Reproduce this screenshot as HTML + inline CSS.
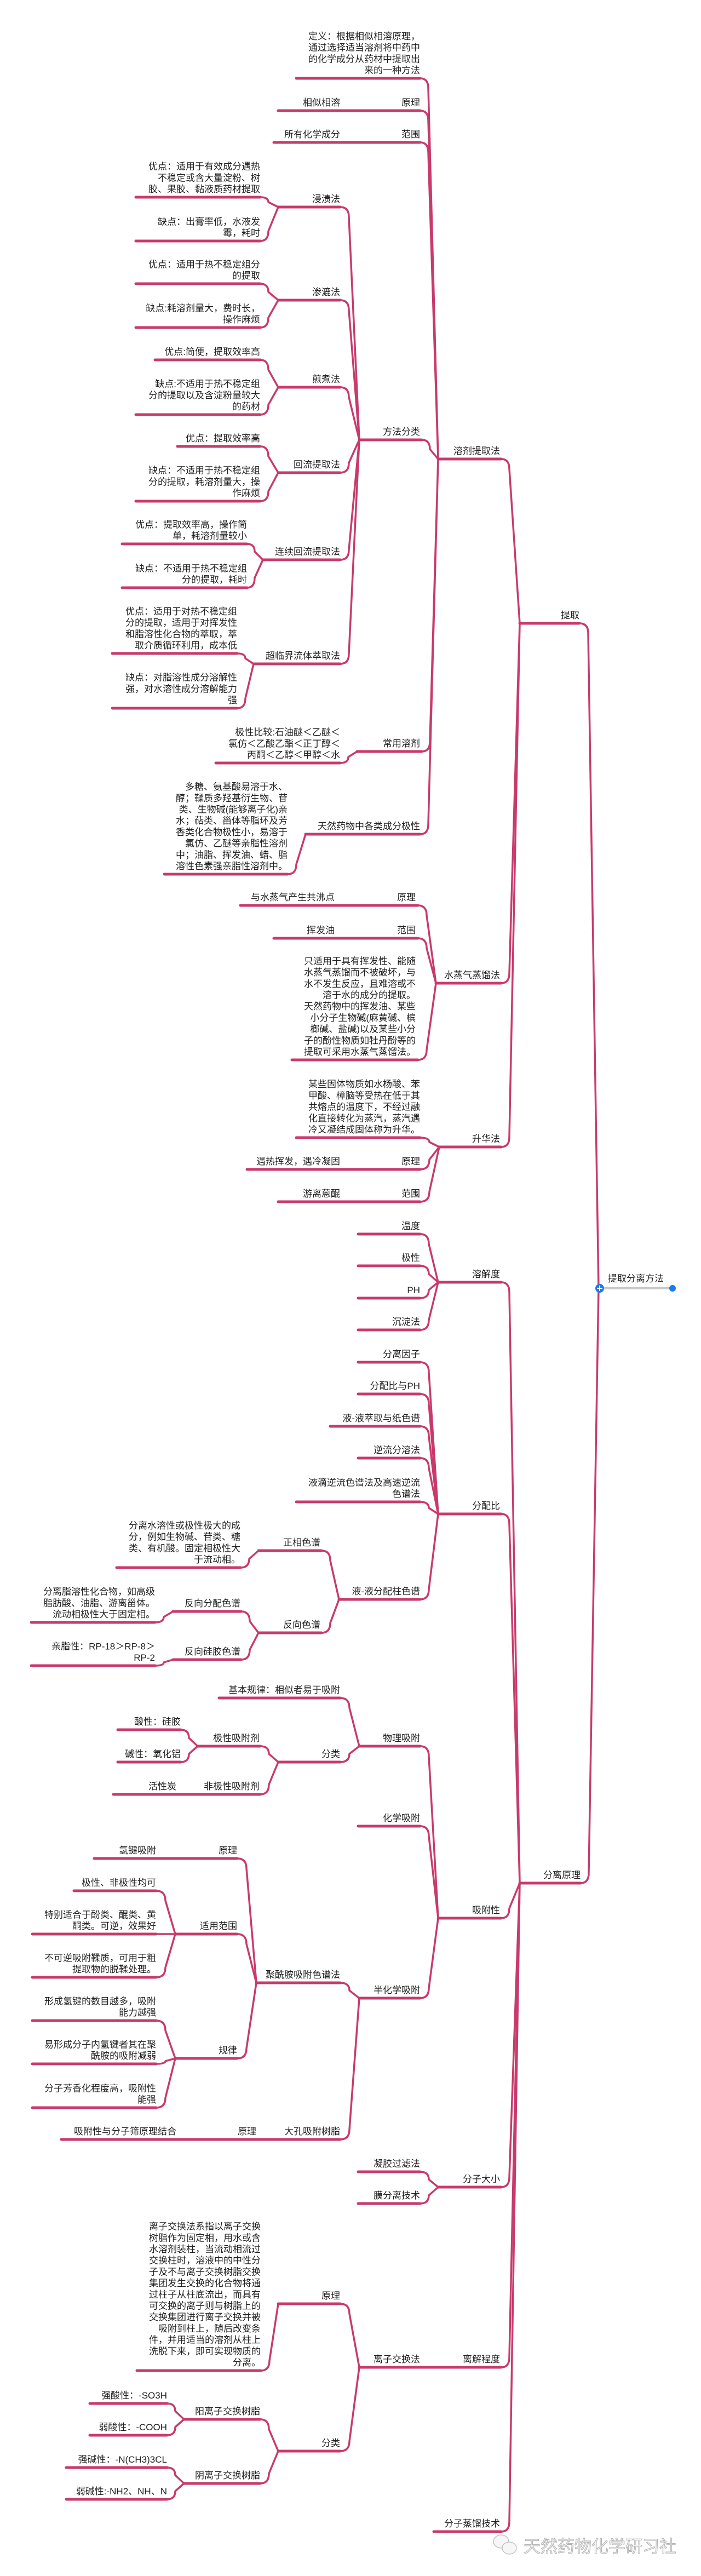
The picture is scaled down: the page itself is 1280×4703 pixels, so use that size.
<!DOCTYPE html>
<html><head><meta charset="utf-8">
<style>
html,body{margin:0;padding:0;background:#fff;}
svg{display:block;}
.t{font-family:"Liberation Sans","Noto Sans CJK SC",sans-serif;font-size:17px;fill:#222;text-anchor:end;}
.u{fill:none;stroke:#c83a6c;stroke-width:5;stroke-linecap:round;}
.c{fill:none;stroke:#c83a6c;stroke-width:3.5;stroke-linecap:round;stroke-linejoin:round;}
</style></head><body>
<svg width="1280" height="4703" viewBox="0 0 1280 4703" xmlns="http://www.w3.org/2000/svg">
<rect width="1280" height="4703" fill="#fff"/>
<!-- underlines -->
<path class="u" d="
M949 1138H1058 M949 3438H1060
M800 838H915 M796 1795H915 M802 2094H915
M800 2341H915 M800 2764H915 M800 3502H915 M800 3993H915 M656 4322H915 M792 4622H915
M541 143H767 M508 202H767 M500 260H767 M656 803H770 M652 1372H770 M558 1523H767
M508 378H621 M508 548H621 M508 707H621 M508 863H621 M480 1022H621 M463 1212H621
M248 360H475 M248 440H475 M248 518H475 M248 598H475 M283 657H475 M248 757H475 M324 815H475 M248 915H475
M223 993H451 M223 1073H451 M205 1193H433 M205 1293H433
M394 1393H621 M300 1596H525
M439 1653H763 M500 1713H763 M533 1935H763
M541 2077H767 M451 2135H767 M508 2194H767
M654 2253H767 M654 2311H767 M654 2370H767 M654 2428H767
M654 2487H767 M654 2545H767 M603 2604H767 M654 2662H767 M541 2742H767 M619 2920H767
M472 2831H587 M472 2981H587 M213 2862H439 M316 2942H440 M316 3030H440 M57 2962H283 M57 3041H283
M656 3188H767 M654 3334H767 M656 3648H767
M400 3100H621 M508 3217H621 M361 3188H475 M207 3276H475 M215 3158H330 M215 3217H330
M468 3620H621 M112 3906H621
M172 3393H433 M320 3531H433 M320 3758H433
M135 3452H285 M59 3531H285 M59 3610H285 M59 3689H285 M59 3768H285 M59 3848H285
M654 3965H767 M654 4023H767
M508 4206H621 M508 4475H621 M250 4328H476
M336 4417H475 M336 4534H475 M164 4388H305 M164 4446H305 M121 4505H305 M121 4563H305
"/>
<!-- connectors -->
<path class="c" d="
M1058 1138 Q1074 1138 1074 1156 L1093 2352
M1060 3438 Q1075 3438 1075 3420 L1093 2352
M915 838 Q930 838 930 856 L949 1138
M915 1795 Q930 1795 930 1777 L949 1138
M915 2094 Q930 2094 930 2076 L949 1138
M915 2341 Q930 2341 930 2359 L949 3438
M915 2764 Q930 2764 930 2782 L949 3438
M915 3502 Q930 3502 930 3484 L949 3438
M915 3993 Q930 3993 930 3975 L949 3438
M915 4322 Q930 4322 930 4304 L949 3438
M915 4622 Q930 4622 930 4604 L949 3438
M767 143 Q782 143 782 161 L800 838
M767 202 Q782 202 782 220 L800 838
M767 260 Q782 260 782 278 L800 838
M770 803 Q785 803 785 820 L800 838
M770 1372 Q785 1372 785 1354 L800 838
M767 1523 Q782 1523 782 1505 L800 838
M621 378 Q637 378 637 396 L656 803
M621 548 Q637 548 637 566 L656 803
M621 707 Q637 707 637 725 L656 803
M621 863 Q637 863 637 845 L656 803
M621 1022 Q637 1022 637 1004 L656 803
M621 1212 Q637 1212 637 1194 L656 803
M475 360 Q490 360 490 369 L508 378
M475 440 Q490 440 490 422 L508 378
M475 518 Q490 518 490 533 L508 548
M475 598 Q490 598 490 580 L508 548
M475 657 Q490 657 490 675 L508 707
M475 757 Q490 757 490 739 L508 707
M475 815 Q490 815 490 833 L508 863
M475 915 Q490 915 490 897 L508 863
M451 993 Q465 993 465 1007 L480 1022
M451 1073 Q465 1073 465 1055 L480 1022
M433 1193 Q448 1193 448 1202 L463 1212
M433 1293 Q448 1293 448 1275 L463 1212
M621 1393 Q636 1393 636 1382 L652 1372
M525 1596 Q541 1596 541 1578 L558 1523
M763 1653 Q779 1653 779 1671 L796 1795
M763 1713 Q779 1713 779 1731 L796 1795
M763 1935 Q779 1935 779 1917 L796 1795
M767 2077 Q784 2077 784 2085 L802 2094
M767 2135 Q784 2135 784 2117 L802 2094
M767 2194 Q784 2194 784 2176 L802 2094
M767 2253 Q783 2253 783 2271 L800 2341
M767 2311 Q783 2311 783 2326 L800 2341
M767 2370 Q783 2370 783 2355 L800 2341
M767 2428 Q783 2428 783 2410 L800 2341
M767 2487 Q783 2487 783 2505 L800 2764
M767 2545 Q783 2545 783 2563 L800 2764
M767 2604 Q783 2604 783 2622 L800 2764
M767 2662 Q783 2662 783 2680 L800 2764
M767 2742 Q783 2742 783 2753 L800 2764
M767 2920 Q783 2920 783 2902 L800 2764
M587 2831 Q603 2831 603 2849 L619 2920
M587 2981 Q603 2981 603 2963 L619 2920
M439 2862 Q455 2862 455 2846 L472 2831
M440 2942 Q456 2942 456 2960 L472 2981
M440 3030 Q456 3030 456 3012 L472 2981
M283 2962 Q299 2962 299 2952 L316 2942
M283 3041 Q299 3041 299 3035 L316 3030
M767 3188 Q783 3188 783 3206 L800 3502
M767 3334 Q783 3334 783 3352 L800 3502
M767 3648 Q783 3648 783 3630 L800 3502
M621 3100 Q638 3100 638 3118 L656 3188
M621 3217 Q638 3217 638 3202 L656 3188
M475 3188 Q491 3188 491 3202 L508 3217
M475 3276 Q491 3276 491 3258 L508 3217
M330 3158 Q345 3158 345 3173 L361 3188
M330 3217 Q345 3217 345 3202 L361 3188
M621 3620 Q638 3620 638 3634 L656 3648
M621 3906 Q638 3906 638 3888 L656 3648
M433 3393 Q450 3393 450 3411 L468 3620
M433 3531 Q450 3531 450 3549 L468 3620
M433 3758 Q450 3758 450 3740 L468 3620
M285 3452 Q302 3452 302 3470 L320 3531
M285 3531 L320 3531
M285 3610 Q302 3610 302 3592 L320 3531
M285 3689 Q302 3689 302 3707 L320 3758
M285 3768 Q302 3768 302 3763 L320 3758
M285 3848 Q302 3848 302 3830 L320 3758
M767 3965 Q783 3965 783 3979 L800 3993
M767 4023 Q783 4023 783 4008 L800 3993
M621 4206 Q638 4206 638 4224 L656 4322
M621 4475 Q638 4475 638 4457 L656 4322
M476 4328 Q492 4328 492 4310 L508 4206
M475 4417 Q491 4417 491 4435 L508 4475
M475 4534 Q491 4534 491 4516 L508 4475
M305 4388 Q320 4388 320 4402 L336 4417
M305 4446 Q320 4446 320 4431 L336 4417
M305 4505 Q320 4505 320 4519 L336 4534
M305 4563 Q320 4563 320 4548 L336 4534
"/>
<!-- root -->
<line x1="1095" y1="2352" x2="1228" y2="2352" stroke="#c8c8c8" stroke-width="4"/>
<circle cx="1228" cy="2352" r="6" fill="#1a7ae8"/>
<circle cx="1095" cy="2352" r="8" fill="#1a7ae8"/>
<path d="M1090 2352H1100M1095 2347V2357" stroke="#fff" stroke-width="2"/>
<text class="t" x="1212" y="2340">提取分离方法</text>

<text class="t" x="1058" y="1129">提取</text>
<text class="t" x="1060" y="3429">分离原理</text>
<text class="t" x="913" y="829">溶剂提取法</text>
<text class="t" x="913" y="1786">水蒸气蒸馏法</text>
<text class="t" x="913" y="2085">升华法</text>
<text class="t" x="913" y="2332">溶解度</text>
<text class="t" x="913" y="2755">分配比</text>
<text class="t" x="913" y="3493">吸附性</text>
<text class="t" x="913" y="3984">分子大小</text>
<text class="t" x="913" y="4313">离解程度</text>
<text class="t" x="767" y="4313">离子交换法</text>
<text class="t" x="913" y="4613">分子蒸馏技术</text>

<text class="t" x="767" y="72"><tspan x="767">定义：根据相似相溶原理，</tspan><tspan x="767" dy="20.7">通过选择适当溶剂将中药中</tspan><tspan x="767" dy="20.7">的化学成分从药材中提取出</tspan><tspan x="767" dy="20.7">来的一种方法</tspan></text>
<text class="t" x="767" y="193">原理</text><text class="t" x="621" y="193">相似相溶</text>
<text class="t" x="767" y="251">范围</text><text class="t" x="621" y="251">所有化学成分</text>
<text class="t" x="767" y="794">方法分类</text>
<text class="t" x="767" y="1363">常用溶剂</text>
<text class="t" x="767" y="1514">天然药物中各类成分极性</text>

<text class="t" x="621" y="369">浸渍法</text>
<text class="t" x="621" y="539">渗漉法</text>
<text class="t" x="621" y="698">煎煮法</text>
<text class="t" x="621" y="854">回流提取法</text>
<text class="t" x="621" y="1013">连续回流提取法</text>
<text class="t" x="621" y="1203">超临界流体萃取法</text>

<text class="t" y="309.6"><tspan x="475">优点：适用于有效成分遇热</tspan><tspan x="475" dy="20.7">不稳定或含大量淀粉、树</tspan><tspan x="475" dy="20.7">胶、果胶、黏液质药材提取</tspan></text>
<text class="t" y="410.3"><tspan x="475">缺点：出膏率低，水液发</tspan><tspan x="475" dy="20.7">霉，耗时</tspan></text>
<text class="t" y="488.3"><tspan x="475">优点：适用于热不稳定组分</tspan><tspan x="475" dy="20.7">的提取</tspan></text>
<text class="t" y="568.3"><tspan x="475">缺点:耗溶剂量大，费时长，</tspan><tspan x="475" dy="20.7">操作麻烦</tspan></text>
<text class="t" x="475" y="648">优点:简便，提取效率高</text>
<text class="t" y="706.6"><tspan x="475">缺点:不适用于热不稳定组</tspan><tspan x="475" dy="20.7">分的提取以及含淀粉量较大</tspan><tspan x="475" dy="20.7">的药材</tspan></text>
<text class="t" x="475" y="806">优点：提取效率高</text>
<text class="t" y="864.6"><tspan x="475">缺点：不适用于热不稳定组</tspan><tspan x="475" dy="20.7">分的提取，耗溶剂量大，操</tspan><tspan x="475" dy="20.7">作麻烦</tspan></text>
<text class="t" y="963.3"><tspan x="451">优点：提取效率高，操作简</tspan><tspan x="451" dy="20.7">单，耗溶剂量较小</tspan></text>
<text class="t" y="1043.3"><tspan x="451">缺点：不适用于热不稳定组</tspan><tspan x="451" dy="20.7">分的提取，耗时</tspan></text>
<text class="t" y="1121.9"><tspan x="433">优点：适用于对热不稳定组</tspan><tspan x="433" dy="20.7">分的提取，适用于对挥发性</tspan><tspan x="433" dy="20.7">和脂溶性化合物的萃取，萃</tspan><tspan x="433" dy="20.7">取介质循环利用，成本低</tspan></text>
<text class="t" y="1242.6"><tspan x="433">缺点：对脂溶性成分溶解性</tspan><tspan x="433" dy="20.7">强，对水溶性成分溶解能力</tspan><tspan x="433" dy="20.7">强</tspan></text>
<text class="t" y="1342.6"><tspan x="621">极性比较:石油醚＜乙醚＜</tspan><tspan x="621" dy="20.7">氯仿＜乙酸乙酯＜正丁醇＜</tspan><tspan x="621" dy="20.7">丙酮＜乙醇＜甲醇＜水</tspan></text>
<text class="t" y="1442.1"><tspan x="525">多糖、氨基酸易溶于水、</tspan><tspan x="525" dy="20.7">醇；鞣质多羟基衍生物、苷</tspan><tspan x="525" dy="20.7">类、生物碱(能够离子化)亲</tspan><tspan x="525" dy="20.7">水；萜类、甾体等脂环及芳</tspan><tspan x="525" dy="20.7">香类化合物极性小，易溶于</tspan><tspan x="525" dy="20.7">氯仿、乙醚等亲脂性溶剂</tspan><tspan x="525" dy="20.7">中；油脂、挥发油、蜡、脂</tspan><tspan x="525" dy="20.7">溶性色素强亲脂性溶剂中。</tspan></text>

<text class="t" x="759" y="1644">原理</text><text class="t" x="611" y="1644">与水蒸气产生共沸点</text>
<text class="t" x="759" y="1704">范围</text><text class="t" x="611" y="1704">挥发油</text>
<text class="t" y="1760.4"><tspan x="759">只适用于具有挥发性、能随</tspan><tspan x="759" dy="20.7">水蒸气蒸馏而不被破坏，与</tspan><tspan x="759" dy="20.7">水不发生反应，且难溶或不</tspan><tspan x="759" dy="20.7">溶于水的成分的提取。</tspan><tspan x="759" dy="20.7">天然药物中的挥发油、某些</tspan><tspan x="759" dy="20.7">小分子生物碱(麻黄碱、槟</tspan><tspan x="759" dy="20.7">榔碱、盐碱)以及某些小分</tspan><tspan x="759" dy="20.7">子的酚性物质如牡丹酚等的</tspan><tspan x="759" dy="20.7">提取可采用水蒸气蒸馏法。</tspan></text>

<text class="t" y="1985.2"><tspan x="767">某些固体物质如水杨酸、苯</tspan><tspan x="767" dy="20.7">甲酸、樟脑等受热在低于其</tspan><tspan x="767" dy="20.7">共熔点的温度下，不经过融</tspan><tspan x="767" dy="20.7">化直接转化为蒸汽，蒸汽遇</tspan><tspan x="767" dy="20.7">冷又凝结成固体称为升华。</tspan></text>
<text class="t" x="767" y="2126">原理</text><text class="t" x="621" y="2126">遇热挥发，遇冷凝固</text>
<text class="t" x="767" y="2185">范围</text><text class="t" x="621" y="2185">游离蒽醌</text>

<text class="t" x="767" y="2244">温度</text>
<text class="t" x="767" y="2302">极性</text>
<text class="t" x="767" y="2361">PH</text>
<text class="t" x="767" y="2419">沉淀法</text>

<text class="t" x="767" y="2478">分离因子</text>
<text class="t" x="767" y="2536">分配比与PH</text>
<text class="t" x="767" y="2595">液-液萃取与纸色谱</text>
<text class="t" x="767" y="2653">逆流分溶法</text>
<text class="t" y="2712.3"><tspan x="767">液滴逆流色谱法及高速逆流</tspan><tspan x="767" dy="20.7">色谱法</tspan></text>
<text class="t" x="767" y="2911">液-液分配柱色谱</text>
<text class="t" x="585" y="2822">正相色谱</text>
<text class="t" x="585" y="2972">反向色谱</text>
<text class="t" y="2790.9"><tspan x="439">分离水溶性或极性极大的成</tspan><tspan x="439" dy="20.7">分，例如生物碱、苷类、糖</tspan><tspan x="439" dy="20.7">类、有机酸。固定相极性大</tspan><tspan x="439" dy="20.7">于流动相。</tspan></text>
<text class="t" x="439" y="2933">反向分配色谱</text>
<text class="t" x="439" y="3021">反向硅胶色谱</text>
<text class="t" y="2911.6"><tspan x="283">分离脂溶性化合物，如高级</tspan><tspan x="283" dy="20.7">脂肪酸、油脂、游离甾体。</tspan><tspan x="283" dy="20.7">流动相极性大于固定相。</tspan></text>
<text class="t" y="3011.3"><tspan x="283">亲脂性：RP-18＞RP-8＞</tspan><tspan x="283" dy="20.7">RP-2</tspan></text>

<text class="t" x="767" y="3179">物理吸附</text>
<text class="t" x="767" y="3325">化学吸附</text>
<text class="t" x="767" y="3639">半化学吸附</text>
<text class="t" x="621" y="3091">基本规律：相似者易于吸附</text>
<text class="t" x="621" y="3208">分类</text>
<text class="t" x="474" y="3179">极性吸附剂</text>
<text class="t" x="474" y="3267">非极性吸附剂</text><text class="t" x="322" y="3267">活性炭</text>
<text class="t" x="330" y="3149">酸性：硅胶</text>
<text class="t" x="330" y="3208">碱性：氧化铝</text>
<text class="t" x="621" y="3611">聚酰胺吸附色谱法</text>
<text class="t" x="621" y="3897">大孔吸附树脂</text><text class="t" x="468" y="3897">原理</text><text class="t" x="322" y="3897">吸附性与分子筛原理结合</text>
<text class="t" x="433" y="3384">原理</text><text class="t" x="285" y="3384">氢键吸附</text>
<text class="t" x="433" y="3522">适用范围</text>
<text class="t" x="433" y="3749">规律</text>
<text class="t" x="285" y="3443">极性、非极性均可</text>
<text class="t" y="3501.3"><tspan x="285">特别适合于酚类、醌类、黄</tspan><tspan x="285" dy="20.7">酮类。可逆，效果好</tspan></text>
<text class="t" y="3580.3"><tspan x="285">不可逆吸附鞣质，可用于粗</tspan><tspan x="285" dy="20.7">提取物的脱鞣处理。</tspan></text>
<text class="t" y="3659.3"><tspan x="285">形成氢键的数目越多，吸附</tspan><tspan x="285" dy="20.7">能力越强</tspan></text>
<text class="t" y="3738.3"><tspan x="285">易形成分子内氢键者其在聚</tspan><tspan x="285" dy="20.7">酰胺的吸附减弱</tspan></text>
<text class="t" y="3818.3"><tspan x="285">分子芳香化程度高，吸附性</tspan><tspan x="285" dy="20.7">能强</tspan></text>

<text class="t" x="767" y="3956">凝胶过滤法</text>
<text class="t" x="767" y="4014">膜分离技术</text>

<text class="t" x="621" y="4197">原理</text>
<text class="t" x="621" y="4466">分类</text>
<text class="t" y="4070.6"><tspan x="476">离子交换法系指以离子交换</tspan><tspan x="476" dy="20.7">树脂作为固定相，用水或含</tspan><tspan x="476" dy="20.7">水溶剂装柱，当流动相流过</tspan><tspan x="476" dy="20.7">交换柱时，溶液中的中性分</tspan><tspan x="476" dy="20.7">子及不与离子交换树脂交换</tspan><tspan x="476" dy="20.7">集团发生交换的化合物将通</tspan><tspan x="476" dy="20.7">过柱子从柱底流出，而具有</tspan><tspan x="476" dy="20.7">可交换的离子则与树脂上的</tspan><tspan x="476" dy="20.7">交换集团进行离子交换并被</tspan><tspan x="476" dy="20.7">吸附到柱上，随后改变条</tspan><tspan x="476" dy="20.7">件，并用适当的溶剂从柱上</tspan><tspan x="476" dy="20.7">洗脱下来，即可实现物质的</tspan><tspan x="476" dy="20.7">分离。</tspan></text>
<text class="t" x="475" y="4408">阳离子交换树脂</text>
<text class="t" x="475" y="4525">阴离子交换树脂</text>
<text class="t" x="305" y="4379">强酸性：-SO3H</text>
<text class="t" x="305" y="4437">弱酸性：-COOH</text>
<text class="t" x="305" y="4496">强碱性：-N(CH3)3CL</text>
<text class="t" x="305" y="4554">弱碱性:-NH2、NH、N</text>

<!-- watermark -->
<g fill="#f6f6f6" stroke="#b8b8b8" stroke-width="1.2">
<ellipse cx="915" cy="4640" rx="14" ry="12"/>
<ellipse cx="930" cy="4652" rx="13" ry="11"/>
</g>
<text x="956" y="4660" font-family="Liberation Sans, Noto Sans CJK SC, sans-serif" font-size="31" fill="#f4f4f4" stroke="#b0b0b0" stroke-width="1">天然药物化学研习社</text>
</svg>
</body></html>
